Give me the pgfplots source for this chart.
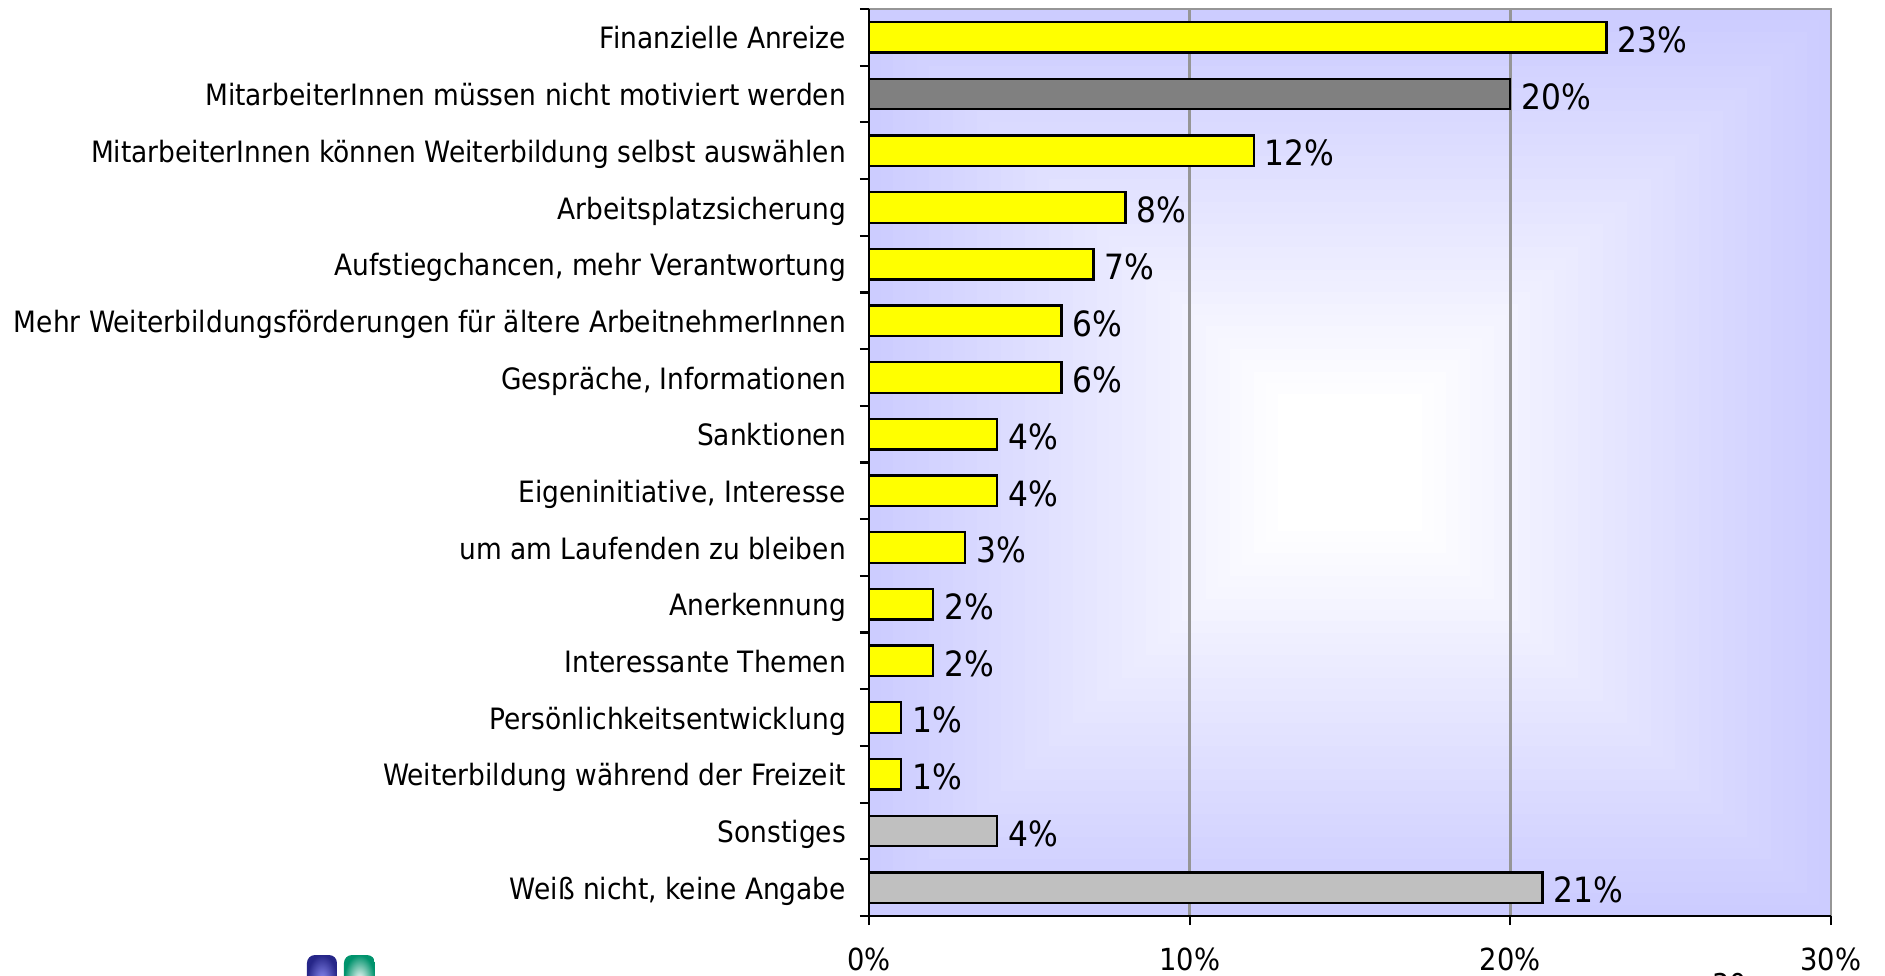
\documentclass[border=0pt]{standalone}
\usepackage{pgfplots}
\usepackage{fontspec}
\setmainfont{DejaVu Sans Condensed}
\pgfplotsset{compat=1.18}
\newcommand{\px}{0.5pt}
\pgfplotstableread{
y v
0 23
2 12
3 8
4 7
5 6
6 6
7 4
8 4
9 3
10 2
11 2
12 1
13 1
}\yellowdata
\pgfplotstableread{
y v
1 20
}\darkdata
\pgfplotstableread{
y v
14 4
15 21
}\greydata
\definecolor{bgblue}{RGB}{204,204,255}
\definecolor{baryellow}{RGB}{255,255,0}
\definecolor{bardark}{RGB}{128,128,128}
\definecolor{barlight}{RGB}{192,192,192}
\definecolor{gridgray}{RGB}{150,150,150}
\begin{document}
\begin{tikzpicture}[x=\px,y=\px]
\path[use as bounding box] (-869,-59) rectangle (1016,916);
\begin{axis}[
  at={(0,0)},anchor=south west,scale only axis,
  width=481pt,height=453.5pt,
  xmin=0,xmax=30,ymin=-0.5,ymax=15.5,y dir=reverse,
  xtick={0,10,20,30},xticklabels={0\%,10\%,20\%,30\%},
  xtick pos=bottom,ytick pos=left,tick align=outside,
  ytick={-0.5,0.5,...,15.5},yticklabels={},
  major tick length=4.5pt,
  tick style={black,line width=1.1pt},
  extra y ticks={0,...,15},
  extra y tick style={major tick length=0pt},
  extra y tick labels={Finanzielle Anreize,MitarbeiterInnen müssen nicht motiviert werden,MitarbeiterInnen können Weiterbildung selbst auswählen,Arbeitsplatzsicherung,{Aufstiegchancen, mehr Verantwortung},Mehr Weiterbildungsförderungen für ältere ArbeitnehmerInnen,{Gespräche, Informationen},Sanktionen,{Eigeninitiative, Interesse},um am Laufenden zu bleiben,Anerkennung,Interessante Themen,Persönlichkeitsentwicklung,Weiterbildung während der Freizeit,Sonstiges,{Weiß nicht, keine Angabe}},
  yticklabel style={font=\fontsize{14.7}{17}\selectfont,xshift=-8pt,text height=14pt,text depth=2.4pt},
  xticklabel style={font=\fontsize{15.2}{17}\selectfont,yshift=-8pt},
  axis line style={draw=none},
  clip=false,
  xbar,bar width=15.3pt,bar shift=0pt,
  nodes near coords={\pgfmathprintnumber[assume math mode=true]{\pgfplotspointmeta}\%},
  point meta=explicit,
  nodes near coords style={anchor=west,inner sep=0pt,xshift=5pt,yshift=-1.3pt,font=\fontsize{17.4}{19}\selectfont,black},
]
\foreach \i in {0,...,40}{
  \pgfmathsetmacro{\f}{\i/40}
  \pgfmathsetmacro{\mix}{min(100,119*\f^1.05)}
  \edef\tmp{\noexpand\fill[white!\mix!bgblue]
    (axis cs:{15*\f},{-0.5+\f*8}) rectangle (axis cs:{30-15*\f},{15.5-\f*8});}
  \tmp
}
\draw[gridgray,line width=1.2pt] (axis cs:10,-0.5)--(axis cs:10,15.5);
\draw[gridgray,line width=1.2pt] (axis cs:20,-0.5)--(axis cs:20,15.5);
\draw[gridgray,line width=1.2pt] (axis cs:0,-0.5)--(axis cs:30,-0.5)--(axis cs:30,15.5);
\addplot[fill=baryellow,draw=black,line width=1.15pt] table[x=v,y=y,meta=v] {\yellowdata};
\addplot[fill=bardark,draw=black,line width=1.15pt] table[x=v,y=y,meta=v] {\darkdata};
\addplot[fill=barlight,draw=black,line width=1.15pt] table[x=v,y=y,meta=v] {\greydata};
\draw[black,line width=1.2pt] (axis cs:0,-0.5)--(axis cs:0,15.5)--(axis cs:30,15.5);
\end{axis}
% clipped logo and page number along the lower edge
\shade[rounded corners=4pt,inner color=black!10!blue!45!white,outer color=blue!45!black!85!white] (-562,-39) rectangle (-532,-90);
\shade[rounded corners=4pt,inner color=white,outer color=teal!85!green] (-525,-39) rectangle (-494,-90);
\node[anchor=base west,inner sep=0pt,font=\fontsize{15}{17}\selectfont] at (843,-79) {30};
\end{tikzpicture}
\end{document}
